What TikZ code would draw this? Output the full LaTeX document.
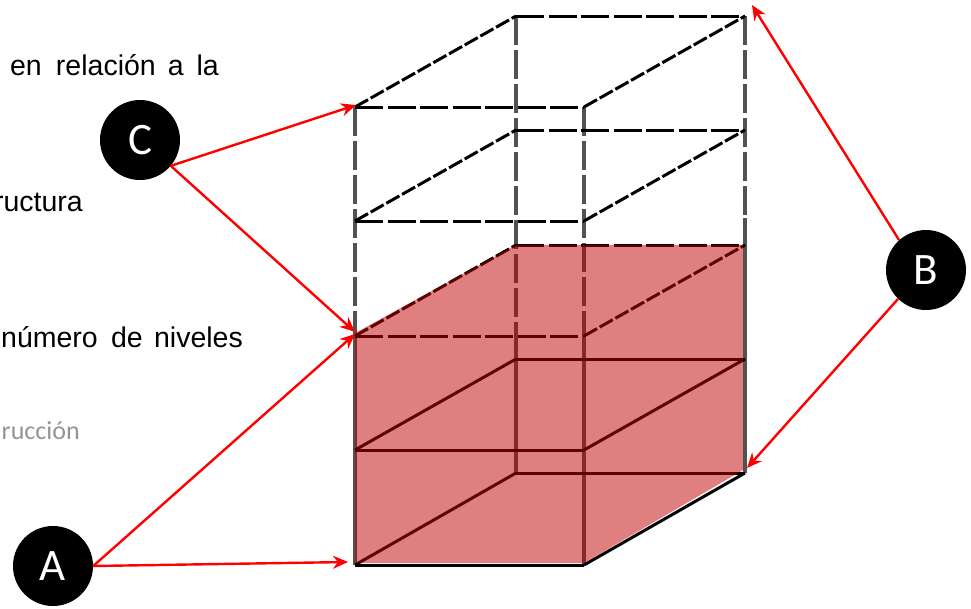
\documentclass[tikz,border=0pt]{standalone}
\usepackage{fontspec}
\setmainfont{Liberation Sans}
\newfontfamily\carl{Carlito}
\usetikzlibrary{arrows.meta}
\definecolor{volred}{HTML}{C00000}
\tikzset{
  hdash/.style={black,line width=3pt,dash pattern=on 28pt off 4.5pt},
  ddash/.style={black,line width=3pt,dash pattern=on 15pt off 3pt},
  solidline/.style={black,line width=3pt},
  vdash/.style={black!68,line width=4pt,dash pattern=on 29pt off 5pt},
  vsolid/.style={black!68,line width=4pt},
  ptr/.style={red,line width=2.4pt,-{Stealth[length=15pt,width=13pt]}},
  badge/.style={circle,fill=black,text=white,minimum size=80pt,inner sep=0pt,font=\carl\fontsize{45}{45}\selectfont},
  body/.style={inner sep=0pt,font=\fontsize{28.5}{30}\selectfont,anchor=base east},
  muted/.style={inner sep=0pt,text=black!42,font=\carl\fontsize{26}{30}\selectfont,anchor=base east},
}
\begin{document}
\begin{tikzpicture}[x=1pt,y=-1pt]
\useasboundingbox (0,0) rectangle (971,608);
\clip (0,0) rectangle (971,608);
% body text
\node[body] (t1a) at (42,75) {en};
\node[body] (t1b) at (156,75) {relación};
\node[body] (t1c) at (184,75) {a};
\node[body] (t1d) at (219,75) {la};
\node[body] (t2) at (83,211) {ructura};
\node[body] (t3a) at (98,347) {número};
\node[body] (t3b) at (143,347) {de};
\node[body] (t3c) at (243,347) {niveles};
\node[muted] (t4) at (80,439) {rucción};
% corners
\coordinate (f0) at (355,565); \coordinate (g0) at (584,565);
\coordinate (h0) at (516,473); \coordinate (k0) at (745,473);
\coordinate (f1) at (355,450); \coordinate (g1) at (584,450);
\coordinate (h1) at (516,359); \coordinate (k1) at (745,359);
\coordinate (f2) at (355,336); \coordinate (g2) at (584,336);
\coordinate (h2) at (516,245); \coordinate (k2) at (745,245);
\coordinate (f3) at (355,221); \coordinate (g3) at (584,221);
\coordinate (h3) at (516,130); \coordinate (k3) at (745,130);
\coordinate (f4) at (355,107); \coordinate (g4) at (584,107);
\coordinate (h4) at (516,16);  \coordinate (k4) at (745,16);
% uprights
\draw[vdash] (f4) -- (f2);
\draw[vdash] (g4) -- (g2);
\draw[vdash] (h4) -- (516,350);
\draw[vdash] (k4) -- (745,218);
\draw[vsolid] (f2) -- (f0);
\draw[vsolid] (g2) -- (g0);
\draw[vsolid] (516,350) -- (h0);
\draw[vsolid] (745,218) -- (k0);
% dashed levels
\foreach \n in {2,3,4}{
  \draw[hdash] (f\n) -- (g\n);
  \draw[hdash] (h\n) -- (k\n);
  \draw[ddash] (f\n) -- (h\n);
  \draw[ddash] (g\n) -- (k\n);
}
% solid levels
\foreach \n in {0,1}{
  \draw[solidline] (f\n) -- (g\n);
  \draw[solidline] (h\n) -- (k\n);
  \draw[solidline] (f\n) -- (h\n);
  \draw[solidline] (g\n) -- (k\n);
}
% translucent volume
\fill[volred,opacity=.5] (355,333) -- (516,245) -- (743,245) -- (743,470) -- (584,563) -- (355,563) -- cycle;
% badges
\node[badge] (C) at (140,140) {C};
\node[badge] (B) at (926,270) {B};
\node[badge] (A) at (53,566) {A};
% arrow targets
\coordinate (cTop) at (356,105);
\coordinate (mid1) at (355,332);
\coordinate (mid2) at (355,334);
\coordinate (aBot) at (348,562);
\coordinate (bTop) at (752,5);
\coordinate (bBot) at (747,468);
\draw[ptr] (C.-40) -- (cTop);
\draw[ptr] (C.-40) -- (mid1);
\draw[ptr] (A.0) -- (mid2);
\draw[ptr] (A.0) -- (aBot);
\draw[ptr] (B.132) -- (bTop);
\draw[ptr] (B.-134) -- (bBot);
\end{tikzpicture}
\end{document}
